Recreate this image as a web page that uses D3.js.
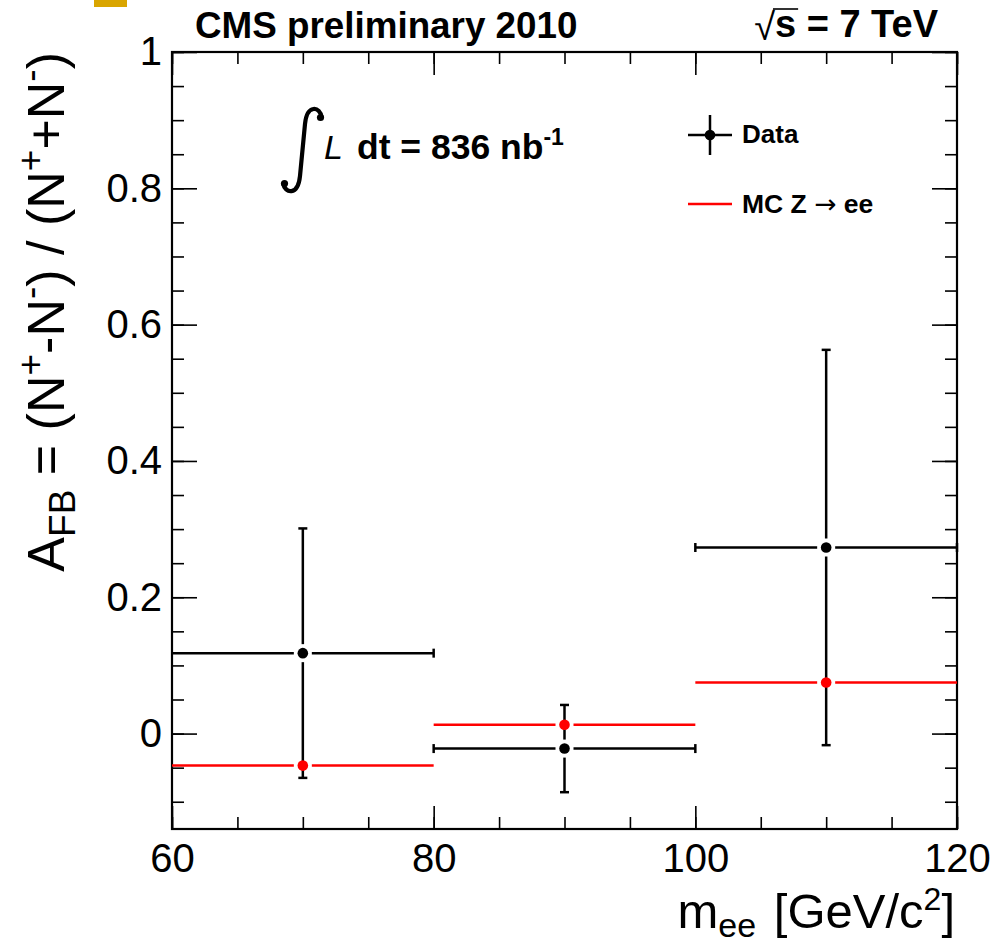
<!DOCTYPE html>
<html>
<head>
<meta charset="utf-8">
<script src="https://cdn.jsdelivr.net/npm/d3@7/dist/d3.min.js"></script>
<style>
  body { margin: 0; background: #fff; }
  svg { display: block; }
  text { font-family: "Liberation Sans", Arial, Helvetica, sans-serif; fill: #000; }
</style>
</head>
<body>
<div id="chart"></div>
<script>
// bins in m_ee and the measured / simulated asymmetries
var binEdges = [60, 80, 100, 120];
var binCenters = [70, 90, 110];
var dataAfb = [0.118, -0.022, 0.273];
var dataErr = [0.183, 0.064, 0.29];
var mcAfb = [-0.047, 0.013, 0.075];

var xMajorTicks = [60, 80, 100, 120];
var yMajorTicks = [0, 0.2, 0.4, 0.6, 0.8, 1];

var svgWidth = 997;
var svgHeight = 946;

var margin = { top: 52, right: 40, bottom: 117, left: 172 };
var width = 957 - margin.left;
var height = 829 - margin.top;

var svg = d3.select("#chart")
  .append("svg")
  .attr("width", svgWidth)
  .attr("height", svgHeight);

// stray orange mark in the top left corner
svg.append("rect")
  .attr("x", 94).attr("y", 0)
  .attr("width", 33).attr("height", 7)
  .attr("fill", "#d9a500");

var chartGroup = svg.append("g")
  .attr("transform", `translate(${margin.left}, ${margin.top})`);

var xScale = d3.scaleLinear().domain([60, 120]).range([0, width]);
var yScale = d3.scaleLinear().domain([-0.14, 1]).range([height, 0]);

var xMinor = d3.range(60, 120.01, 5);
var yMinor = d3.range(-0.1, 1.001, 0.05).map(v => Math.round(v * 100) / 100);

function styleAxis(g) {
  g.select(".domain").remove();
  g.selectAll(".tick line").attr("stroke", "#000").attr("stroke-width", 1.6);
  g.selectAll(".tick text")
    .attr("font-size", 40)
    .attr("font-family", "Liberation Sans, Arial, sans-serif");
}

// minor ticks (all four sides, pointing inwards)
chartGroup.append("g")
  .attr("transform", `translate(0, ${height})`)
  .call(d3.axisBottom(xScale).tickValues(xMinor).tickSize(-12).tickFormat(""))
  .call(styleAxis);
chartGroup.append("g")
  .call(d3.axisTop(xScale).tickValues(xMinor).tickSize(-12).tickFormat(""))
  .call(styleAxis);
chartGroup.append("g")
  .call(d3.axisLeft(yScale).tickValues(yMinor).tickSize(-12).tickFormat(""))
  .call(styleAxis);
chartGroup.append("g")
  .attr("transform", `translate(${width}, 0)`)
  .call(d3.axisRight(yScale).tickValues(yMinor).tickSize(-12).tickFormat(""))
  .call(styleAxis);

// major ticks with labels
chartGroup.append("g")
  .attr("transform", `translate(0, ${height})`)
  .call(d3.axisBottom(xScale).tickValues(xMajorTicks).tickSize(-23).tickPadding(15).tickFormat(d3.format("d")))
  .call(styleAxis);
chartGroup.append("g")
  .call(d3.axisTop(xScale).tickValues(xMajorTicks).tickSize(-23).tickFormat(""))
  .call(styleAxis);
chartGroup.append("g")
  .call(d3.axisLeft(yScale).tickValues(yMajorTicks).tickSize(-25).tickPadding(10).tickFormat(d => d === 0 ? "0" : d === 1 ? "1" : d3.format(".1f")(d)))
  .call(styleAxis);
chartGroup.append("g")
  .attr("transform", `translate(${width}, 0)`)
  .call(d3.axisRight(yScale).tickValues(yMajorTicks).tickSize(-25).tickFormat(""))
  .call(styleAxis);

// frame
chartGroup.append("rect")
  .attr("width", width)
  .attr("height", height)
  .attr("fill", "none")
  .attr("stroke", "#000")
  .attr("stroke-width", 2.2);

var gap = 9;
var cap = 4.5;
var lw = 2.5;

// MC: horizontal line over each bin, gapped around the marker
var mcGroup = chartGroup.append("g");
binCenters.forEach(function(c, i) {
  var cx = xScale(c), cy = yScale(mcAfb[i]);
  mcGroup.append("line")
    .attr("x1", xScale(binEdges[i])).attr("x2", cx - gap)
    .attr("y1", cy).attr("y2", cy)
    .attr("stroke", "#ff0000").attr("stroke-width", lw);
  mcGroup.append("line")
    .attr("x1", cx + gap).attr("x2", xScale(binEdges[i + 1]))
    .attr("y1", cy).attr("y2", cy)
    .attr("stroke", "#ff0000").attr("stroke-width", lw);
});

// data: error bars with end caps
var dataGroup = chartGroup.append("g");
binCenters.forEach(function(c, i) {
  var cx = xScale(c), cy = yScale(dataAfb[i]);
  var x0 = xScale(binEdges[i]), x1 = xScale(binEdges[i + 1]);
  var yTop = yScale(dataAfb[i] + dataErr[i]), yBot = yScale(dataAfb[i] - dataErr[i]);
  var segs = [
    [x0, cy, cx - gap, cy],
    [cx + gap, cy, x1, cy],
    [cx, cy - gap, cx, yTop],
    [cx, cy + gap, cx, yBot],
    [cx - cap, yTop, cx + cap, yTop],
    [cx - cap, yBot, cx + cap, yBot],
    [x1, cy - cap, x1, cy + cap]
  ];
  if (i > 0) segs.push([x0, cy - cap, x0, cy + cap]);
  segs.forEach(function(s) {
    dataGroup.append("line")
      .attr("x1", s[0]).attr("y1", s[1]).attr("x2", s[2]).attr("y2", s[3])
      .attr("stroke", "#000").attr("stroke-width", lw);
  });
});

// markers
chartGroup.selectAll(".mcdot")
  .data(mcAfb)
  .enter()
  .append("circle")
  .attr("class", "mcdot")
  .attr("cx", (d, i) => xScale(binCenters[i]))
  .attr("cy", d => yScale(d))
  .attr("r", 5.3)
  .attr("fill", "#ff0000");

chartGroup.selectAll(".datadot")
  .data(dataAfb)
  .enter()
  .append("circle")
  .attr("class", "datadot")
  .attr("cx", (d, i) => xScale(binCenters[i]))
  .attr("cy", d => yScale(d))
  .attr("r", 5.3)
  .attr("fill", "#000");

// header texts
svg.append("text")
  .attr("x", 195).attr("y", 38)
  .attr("font-size", 36.8).attr("font-weight", "bold")
  .text("CMS preliminary 2010");

var energy = svg.append("text")
  .attr("x", 938).attr("y", 37)
  .attr("text-anchor", "end")
  .attr("font-size", 38).attr("font-weight", "bold")
  .text("s = 7 TeV");
var eb = energy.node().getBBox();
var sw = energy.node().getSubStringLength(0, 1);
svg.append("text")
  .attr("x", eb.x).attr("y", 40)
  .attr("text-anchor", "end")
  .attr("font-size", 38)
  .attr("font-family", "DejaVu Sans, sans-serif")
  .text("√");
svg.append("line")
  .attr("x1", eb.x - 2).attr("x2", eb.x + sw + 2)
  .attr("y1", 9).attr("y2", 9)
  .attr("stroke", "#000").attr("stroke-width", 1.6);

// luminosity: thin integral sign, italic L, bold text
svg.append("path")
  .attr("d", "M322,118 C320,106 307,104 305,124 L300,176 C298,196 285,194 283,183")
  .attr("fill", "none")
  .attr("stroke", "#000")
  .attr("stroke-width", 4.2);
svg.append("circle").attr("cx", 320.5).attr("cy", 117.5).attr("r", 3.6).attr("fill", "#000");
svg.append("circle").attr("cx", 284.5).attr("cy", 183.5).attr("r", 3.6).attr("fill", "#000");
svg.append("text")
  .attr("x", 324).attr("y", 159)
  .attr("font-size", 34).attr("font-style", "italic")
  .attr("font-family", "Liberation Serif, Times New Roman, serif")
  .text("L");
var lumi = svg.append("text")
  .attr("x", 357).attr("y", 159)
  .attr("font-size", 35.5).attr("font-weight", "bold");
lumi.append("tspan").text("dt = 836 nb");
lumi.append("tspan").attr("dy", -14).attr("font-size", 23).text("-1");

// legend
var legend = svg.append("g");
legend.append("line").attr("x1", 688).attr("x2", 732).attr("y1", 135).attr("y2", 135)
  .attr("stroke", "#000").attr("stroke-width", lw);
legend.append("line").attr("x1", 710).attr("x2", 710).attr("y1", 115).attr("y2", 155)
  .attr("stroke", "#000").attr("stroke-width", lw);
legend.append("circle").attr("cx", 710).attr("cy", 135).attr("r", 5.3).attr("fill", "#000");
legend.append("text").attr("x", 742).attr("y", 143)
  .attr("font-size", 26).attr("font-weight", "bold").text("Data");
legend.append("line").attr("x1", 688).attr("x2", 732).attr("y1", 204).attr("y2", 204)
  .attr("stroke", "#ff0000").attr("stroke-width", lw);
var mcLabel = legend.append("text").attr("x", 742).attr("y", 213)
  .attr("font-size", 26.5).attr("font-weight", "bold");
mcLabel.append("tspan").text("MC Z ");
mcLabel.append("tspan").attr("font-weight", "normal").attr("font-family", "DejaVu Sans, sans-serif").text("→");
mcLabel.append("tspan").text(" ee");

// axis titles
var xTitle = svg.append("text")
  .attr("x", 955).attr("y", 928)
  .attr("text-anchor", "end")
  .attr("font-size", 49);
xTitle.append("tspan").text("m");
xTitle.append("tspan").attr("dy", 9).attr("font-size", 34).text("ee");
xTitle.append("tspan").attr("dy", -9).attr("dx", 4).text(" [GeV/c");
xTitle.append("tspan").attr("dy", -18).attr("font-size", 32).text("2");
xTitle.append("tspan").attr("dy", 18).text("]");

var yTitle = svg.append("text")
  .attr("transform", "translate(64, 52) rotate(-90)")
  .attr("text-anchor", "end")
  .attr("font-size", 52);
yTitle.append("tspan").text("A");
yTitle.append("tspan").attr("dy", 11).attr("font-size", 37).text("FB");
yTitle.append("tspan").attr("dy", -11).text(" = (N");
yTitle.append("tspan").attr("dy", -21).attr("font-size", 37).text("+");
yTitle.append("tspan").attr("dy", 21).text("-N");
yTitle.append("tspan").attr("dy", -21).attr("font-size", 37).text("-");
yTitle.append("tspan").attr("dy", 21).text(") / (N");
yTitle.append("tspan").attr("dy", -21).attr("font-size", 37).text("+");
yTitle.append("tspan").attr("dy", 21).text("+N");
yTitle.append("tspan").attr("dy", -21).attr("font-size", 37).text("-");
yTitle.append("tspan").attr("dy", 21).text(")");
</script>
</body>
</html>
